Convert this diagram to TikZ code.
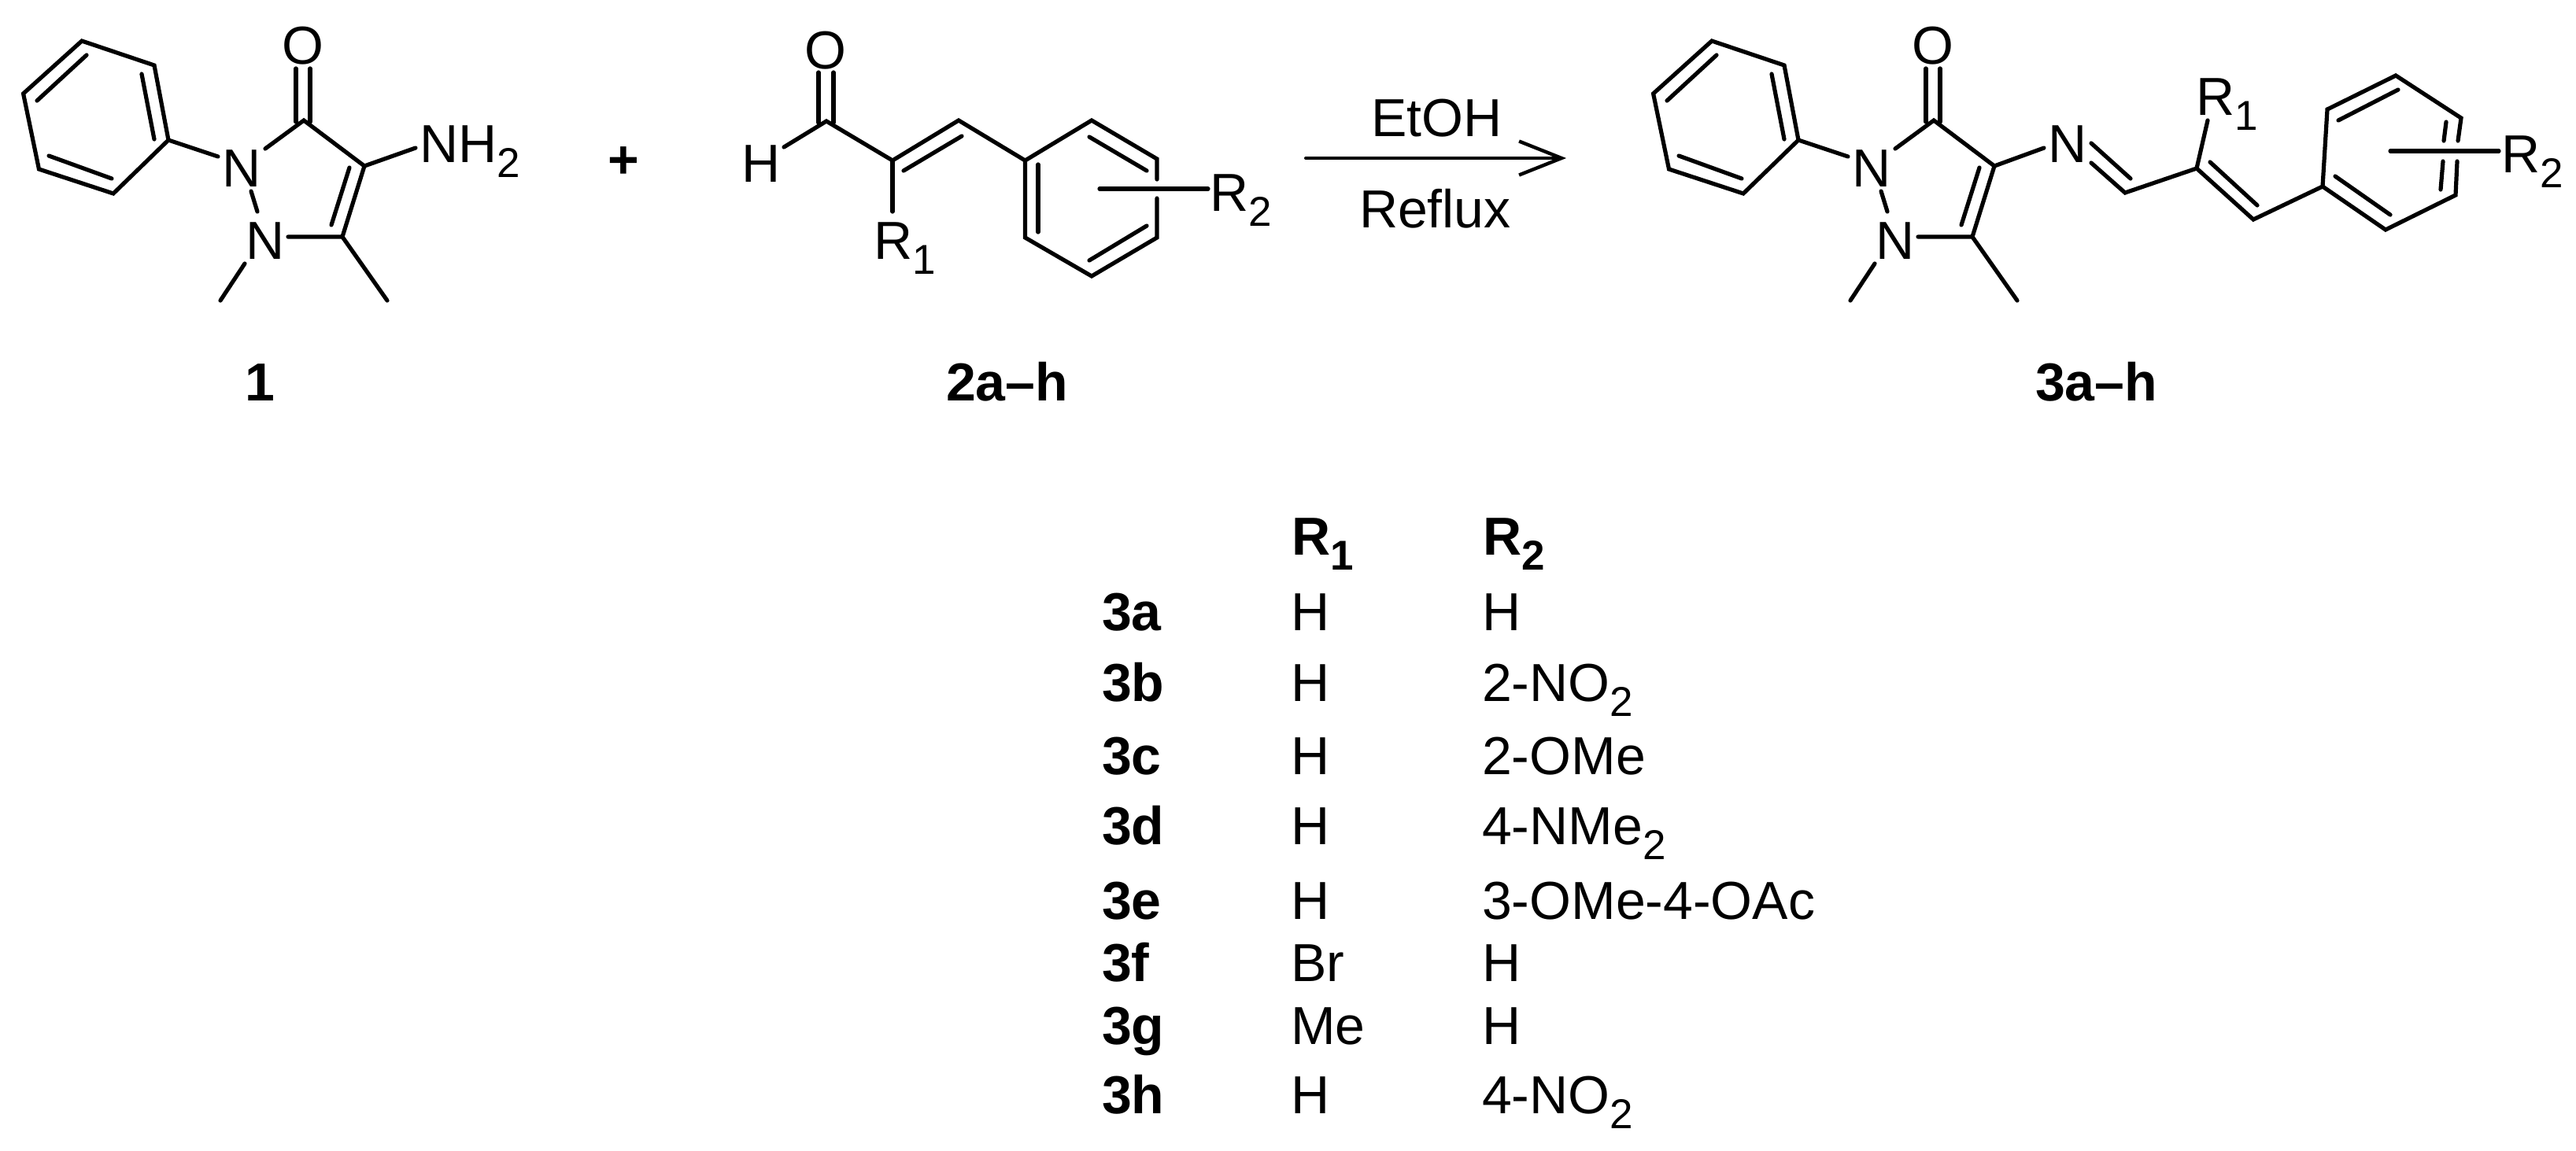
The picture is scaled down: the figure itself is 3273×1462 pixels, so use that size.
\documentclass[tikz,border=0pt]{standalone}
\usepackage{fontspec}
\setmainfont{Liberation Sans}
\usetikzlibrary{arrows.meta}
\newcommand{\txtsize}{\fontsize{68}{72}\selectfont}
\newcommand{\subs}[1]{\raisebox{-19.5pt}{\fontsize{53}{57}\selectfont #1}}
\tikzset{
  x=1pt,y=-1pt,
  bond/.style={line width=5.2pt,line cap=round,line join=miter,miter limit=10,black},
  atom/.style={anchor=base west,inner sep=0pt,outer sep=0pt,font=\txtsize,text=black},
  cmpd/.style={anchor=base west,inner sep=0pt,outer sep=0pt,font=\txtsize\bfseries,text=black},
}
% the antipyrine core, common to 1 and 3: #1 is a prefix for the names
\newcommand{\corering}[1]{
  \coordinate (#1r1) at (104,52);
  \coordinate (#1r2) at (196,83);
  \coordinate (#1r3) at (214,178);
  \coordinate (#1r4) at (144,246);
  \coordinate (#1r5) at (49.5,215);
  \coordinate (#1r6) at (29.6,119);
  \coordinate (#1c5) at (386,153);
  \coordinate (#1c4) at (463,211);
  \coordinate (#1c3) at (435,301);
  \draw[bond] (#1r1)--(#1r2)--(#1r3)--(#1r4)--(#1r5)--(#1r6)--cycle;
  \draw[bond] (110,70)--(47,128);
  \draw[bond] (180,94)--(196,177);
  \draw[bond] (62,198)--(142,227);
  \node[atom] (#1n1) at (282,237) {N};
  \node[atom] (#1n2) at (312,329) {N};
  \node[atom,anchor=base] (#1oo) at (385,81) {O};
  \draw[bond] (#1r3)--(277,199);
  \draw[bond] (337,189)--(#1c5)--(#1c4)--(#1c3)--(366,301);
  \draw[bond] (444,213)--(421,286);
  \draw[bond] (376,87)--(376,155);
  \draw[bond] (394,87)--(394,155);
  \draw[bond] (319,243)--(327,269);
  \draw[bond] (311,335)--(280,382);
  \draw[bond] (#1c3)--(492,382);
}
\begin{document}
\begin{tikzpicture}
\useasboundingbox (0,0) rectangle (3273,1462);
\fill[white] (0,0) rectangle (3273,1462);

% ---- compound 1
\corering{a}
\draw[bond] (ac4)--(528,188);
\node[atom] (nh2) at (533,206) {NH\subs{2}};
\node[cmpd] (lab1) at (311,509) {1};

% ---- plus
\node[cmpd,anchor=center] (plus) at (792,207) {+};

% ---- compound 2
\coordinate (bc) at (1050,154);
\coordinate (ba) at (1134,204);
\coordinate (bb) at (1218,153);
\coordinate (b1) at (1302.5,204);
\coordinate (b2) at (1387,153);
\coordinate (b3) at (1470,202);
\coordinate (b4) at (1470,302);
\coordinate (b5) at (1387,351);
\coordinate (b6) at (1302.5,302);
\node[atom,anchor=base] (bo) at (1049,87) {O};
\node[atom] (bh) at (942,231) {H};
\node[atom] (br1) at (1110,329) {R\subs{1}};
\node[atom] (br2) at (1537,268) {R\subs{2}};
\draw[bond] (1040,92)--(1040,156);
\draw[bond] (1059,92)--(1059,156);
\draw[bond] (996,187)--(bc)--(ba)--(bb)--(b1)--(b2)--(b3)--(1470,228);
\draw[bond] (1470,252)--(b4)--(b5)--(b6)--(b1);
\draw[bond] (ba)--(1134,269);
\draw[bond] (1148,217)--(1222,173);
\draw[bond] (1319,209)--(1319,295);
\draw[bond] (1384,174)--(1457,217);
\draw[bond] (1457,287)--(1384,331);
\draw[bond] (1397,240)--(1535,240);
\node[cmpd] (lab2) at (1202,509) {2a–h};

% ---- reaction arrow
\coordinate (arrS) at (1659,201);
\coordinate (arrE) at (1990,201);
\draw[line width=4pt,line cap=round,-{Straight Barb[length=54pt,width=43pt,line width=4.4pt]}] (arrS)--(arrE);
\node[atom] (etoh) at (1742,173) {EtOH};
\node[atom] (reflux) at (1727,289) {Reflux};

% ---- compound 3
\begin{scope}[shift={(2071,0)}]
\corering{c}
\end{scope}
\coordinate (cimh) at (2700,245);
\coordinate (ca) at (2791,214);
\coordinate (cb) at (2863,279);
\coordinate (c1) at (2951,237);
\coordinate (c2) at (2957,139);
\coordinate (c3) at (3044,96);
\coordinate (c4) at (3127,150);
\coordinate (c5) at (3120,248);
\coordinate (c6) at (3031,292);
\draw[bond] (cc4)--(2597,188);
\node[atom] (cn) at (2602,206) {N};
\node[atom] (cr1) at (2790,146) {R\subs{1}};
\node[atom] (cr2) at (3178,219) {R\subs{2}};
\draw[bond] (2657,182)--(2707,227);
\draw[bond] (2657,207)--(cimh)--(ca)--(cb)--(c1)--(c2)--(c3)--(c4)--(3123,179);
\draw[bond] (3122,205)--(c5)--(c6)--(c1);
\draw[bond] (ca)--(2805,153);
\draw[bond] (2808,206)--(2868,261);
\draw[bond] (3047,114)--(2971,153);
\draw[bond] (3108,155)--(3105,179);
\draw[bond] (3104,205)--(3101,241);
\draw[bond] (2967,224)--(3037,273);
\draw[bond] (3037,192)--(3175,192);
\node[cmpd] (lab3) at (2586,509) {3a–h};

% ---- table
\node[cmpd] (hr1) at (1641,705) {R\subs{1}};
\node[cmpd] (hr2) at (1884,705) {R\subs{2}};
\node[cmpd] (t1) at (1400,801) {3a};
\node[atom] (t1a) at (1640,801) {H};
\node[atom] (t1b) at (1883,801) {H};
\node[cmpd] (t2) at (1400,891) {3b};
\node[atom] (t2a) at (1640,891) {H};
\node[atom] (t2b) at (1883,891) {2-NO\subs{2}};
\node[cmpd] (t3) at (1400,984) {3c};
\node[atom] (t3a) at (1640,984) {H};
\node[atom] (t3b) at (1883,984) {2-OMe};
\node[cmpd] (t4) at (1400,1073) {3d};
\node[atom] (t4a) at (1640,1073) {H};
\node[atom] (t4b) at (1883,1073) {4-NMe\subs{2}};
\node[cmpd] (t5) at (1400,1168) {3e};
\node[atom] (t5a) at (1640,1168) {H};
\node[atom] (t5b) at (1883,1168) {3-OMe-4-OAc};
\node[cmpd] (t6) at (1400,1247) {3f};
\node[atom] (t6a) at (1640,1247) {Br};
\node[atom] (t6b) at (1883,1247) {H};
\node[cmpd] (t7) at (1400,1327) {3g};
\node[atom] (t7a) at (1640,1327) {Me};
\node[atom] (t7b) at (1883,1327) {H};
\node[cmpd] (t8) at (1400,1415) {3h};
\node[atom] (t8a) at (1640,1415) {H};
\node[atom] (t8b) at (1883,1415) {4-NO\subs{2}};
\end{tikzpicture}
\end{document}
